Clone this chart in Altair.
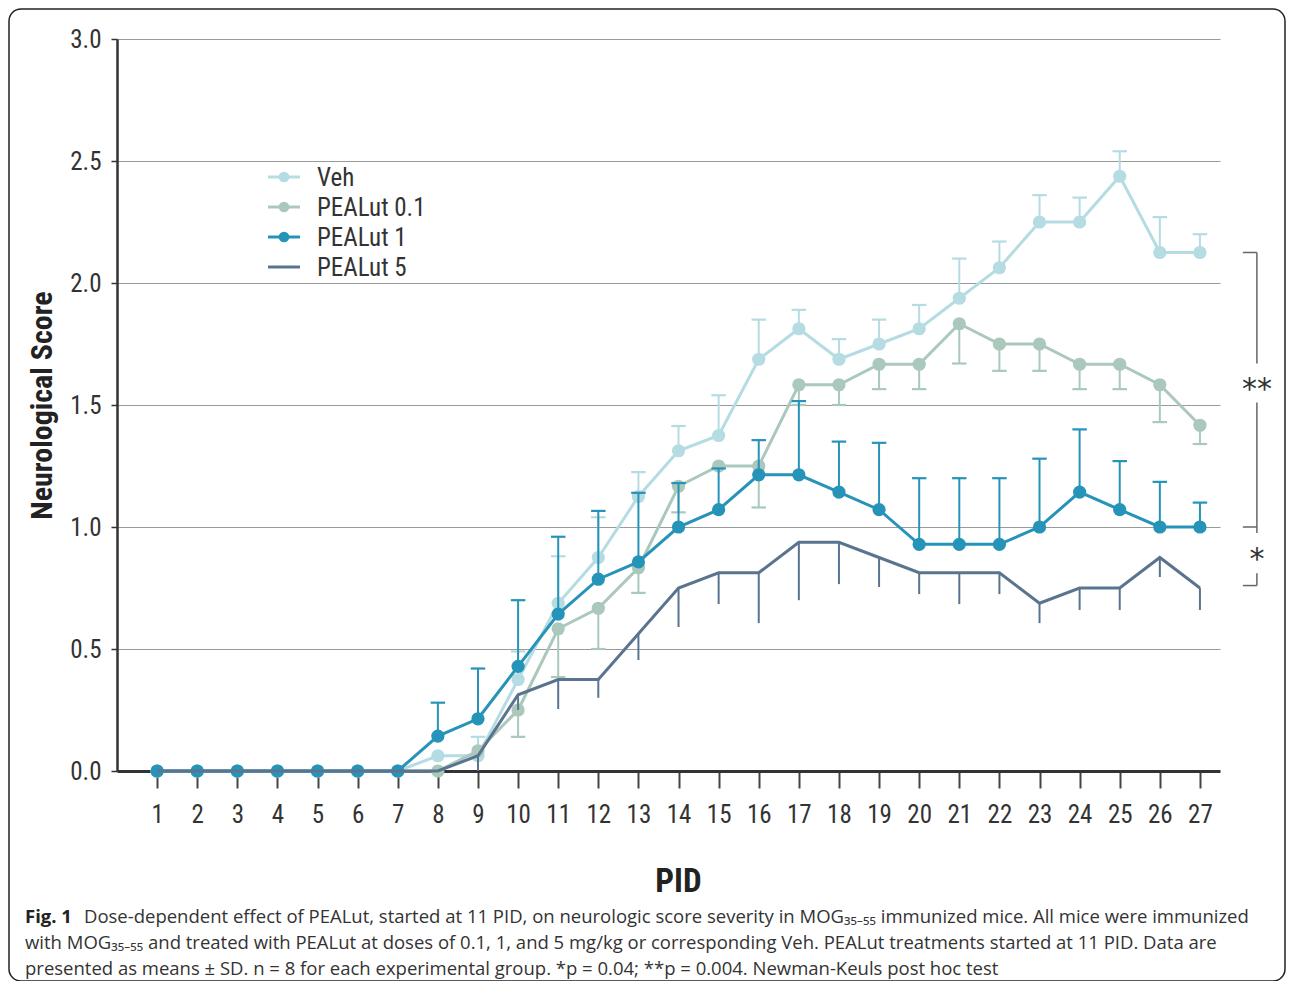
import altair as alt
import pandas as pd
import numpy as np

# ---------------- data ----------------
pid = list(range(1, 28))
groups = ["Veh", "PEALut 0.1", "PEALut 1", "PEALut 5"]
colors = ["#B5DCE3", "#AAC8BC", "#2693B8", "#5A7490"]

veh_mean = [0, 0, 0, 0, 0, 0, 0, 0.0625, 0.0625, 0.375, 0.6875, 0.875, 1.125, 1.3125,
            1.375, 1.6875, 1.8125, 1.6875, 1.75, 1.8125, 1.9375, 2.0625, 2.25, 2.25,
            2.4375, 2.125, 2.125]
veh_err = [None] * 8 + [0.14, 0.49, 0.88, 1.04, 1.225, 1.414, 1.54, 1.85, 1.89, 1.77,
                        1.85, 1.91, 2.10, 2.17, 2.36, 2.35, 2.54, 2.27, 2.20]

p01_mean = [0] * 8 + [0.083, 0.25, 0.583, 0.667, 0.833, 1.167, 1.25, 1.25, 1.583, 1.583,
                      1.667, 1.667, 1.833, 1.75, 1.75, 1.667, 1.667, 1.583, 1.417]
p01_err = [None] * 9 + [0.14, 0.385, 0.50, 0.73, 1.06, None, 1.08, 1.50, 1.50, 1.565,
                        1.565, 1.67, 1.64, 1.64, 1.565, 1.565, 1.43, 1.34]

p1_mean = [0] * 7 + [0.143, 0.214, 0.429, 0.643, 0.786, 0.857, 1.0, 1.071, 1.214, 1.214,
                     1.143, 1.071, 0.929, 0.929, 0.929, 1.0, 1.143, 1.071, 1.0, 1.0]
p1_err = [None] * 7 + [0.28, 0.42, 0.70, 0.96, 1.066, 1.14, 1.18, 1.24, 1.356, 1.516,
                       1.35, 1.345, 1.20, 1.20, 1.20, 1.28, 1.40, 1.27, 1.185, 1.10]

p5_mean = [0] * 8 + [0.0625, 0.3125, 0.375, 0.375, 0.5625, 0.75, 0.8125, 0.8125, 0.9375,
                     0.9375, 0.875, 0.8125, 0.8125, 0.8125, 0.6875, 0.75, 0.75, 0.875, 0.75]
p5_err = [None] * 8 + [0.0, 0.25, 0.254, 0.30, 0.455, 0.59, 0.684, 0.606, 0.70, 0.766,
                       0.754, 0.725, 0.684, 0.725, 0.606, 0.66, 0.66, 0.795, 0.66]

means = [veh_mean, p01_mean, p1_mean, p5_mean]
errs = [veh_err, p01_err, p1_err, p5_err]
has_marker = [True, True, True, False]

y_ticks = [0, 0.5, 1.0, 1.5, 2.0, 2.5, 3.0]

# significance brackets (y values) and labels
sig_top, sig_mid, sig_bot = 2.125, 1.0, 0.76
sig_gap = [1.67, 1.51]
sig_x = [28.07, 28.42]
sig_labels = [("**", 1.56), ("*", 0.865)]

caption = [
    "Dose-dependent effect of PEALut, started at 11 PID, on neurologic score severity in MOG\u2083\u2085\u208b\u2085\u2085 immunized mice. All mice were immunized",
    "with MOG\u2083\u2085\u208b\u2085\u2085 and treated with PEALut at doses of 0.1, 1, and 5 mg/kg or corresponding Veh. PEALut treatments started at 11 PID. Data are",
    "presented as means \u00b1 SD. n = 8 for each experimental group. *p = 0.04; **p = 0.004. Newman-Keuls post hoc test",
]

# ---------------- chart ----------------
COND = "Liberation Sans Narrow, Roboto Condensed, Liberation Sans, sans-serif"
CAP = "Open Sans, Noto Sans, sans-serif"

xscale = alt.Scale(domain=[0, 27.5], nice=False, zero=False)
yscale = alt.Scale(domain=[0, 3], nice=False)
xaxis = alt.Axis(values=pid, title="PID", grid=False, domainColor="#333", domainWidth=3,
                 tickColor="#444", tickSize=17, tickWidth=2, labelFont=COND, labelFontSize=25,
                 labelColor="#333", labelPadding=14, labelFlush=False,
                 titleFont=COND, titleFontSize=33, titleFontWeight="bold", titleColor="#222",
                 titleX=561, titleY=110, titleBaseline="middle")
yaxis = alt.Axis(values=y_ticks, format=".1f", title="Neurological Score", grid=True,
                 gridColor="#9a9a9a", gridWidth=1, domainColor="#333", domainWidth=2.5,
                 tickColor="#333", tickSize=6, tickWidth=1.5, labelFont=COND, labelFontSize=25,
                 labelColor="#333", labelPadding=10,
                 titleFont=COND, titleFontSize=30, titleFontWeight="bold", titleColor="#222",
                 titleX=-75, titleY=366, titleBaseline="middle", titleAlign="center")


def X(f):
    return alt.X(f, type="quantitative", scale=xscale, axis=xaxis)


def Y(f):
    return alt.Y(f, type="quantitative", scale=yscale, axis=yaxis)


layers = []

# frame
frame = alt.Chart(pd.DataFrame({"a": [0]})).mark_rect(
    fillOpacity=0, stroke="#222", strokeWidth=1.5, cornerRadius=12
).encode(x=alt.value(-108), x2=alt.value(1168), y=alt.value(-30), y2=alt.value(942))
layers.append(frame)

for g, c, m, e, mk in zip(groups, colors, means, errs, has_marker):
    df = pd.DataFrame({"day": pid, "mean": m,
                       "end": [np.nan if v is None else v for v in e]})
    dfe = df.dropna()
    base = alt.Chart(df)
    err = alt.Chart(dfe).mark_rule(color=c, strokeWidth=2).encode(
        x=X("day"), y=Y("mean"), y2="end")
    layers.append(err)
    if mk:
        cap = alt.Chart(dfe).mark_point(shape="stroke", color=c, strokeWidth=2.2,
                                        size=210, opacity=1).encode(x=X("day"), y=Y("end"))
        layers.append(cap)
    line = base.mark_line(color=c, strokeWidth=3).encode(x=X("day"), y=Y("mean"))
    layers.append(line)
    if mk:
        pts = base.mark_circle(color=c, size=175, opacity=1).encode(x=X("day"), y=Y("mean"))
        layers.append(pts)

# significance brackets
br_color = "#666"
br_v = pd.DataFrame({"x": [sig_x[1], sig_x[1], sig_x[1]],
                     "y1": [sig_top, sig_gap[1], 0.81],
                     "y2": [sig_gap[0], sig_mid - 0.025, sig_bot]})
layers.append(alt.Chart(br_v).mark_rule(color=br_color, strokeWidth=1.5).encode(
    x=X("x"), y=Y("y1"), y2="y2"))
br_h = pd.DataFrame({"x1": [sig_x[0]] * 3, "x2": [sig_x[1]] * 3,
                     "y": [sig_top, sig_mid, sig_bot]})
layers.append(alt.Chart(br_h).mark_rule(color=br_color, strokeWidth=1.5).encode(
    x=X("x1"), x2="x2", y=Y("y")))
br_t = pd.DataFrame({"x": [sig_x[1]] * 2, "y": [s[1] for s in sig_labels],
                     "t": [s[0] for s in sig_labels]})
layers.append(alt.Chart(br_t).mark_text(font="DejaVu Sans", fontSize=30, color="#333",
                                        baseline="middle").encode(
    x=X("x"), y=Y("y"), text="t:N"))

# legend (manual)
for i, (g, c, mk) in enumerate(zip(groups, colors, has_marker)):
    d = pd.DataFrame({"label": [g]})
    yy = 138 + 30 * i
    layers.append(alt.Chart(d).mark_rule(color=c, strokeWidth=3).encode(
        x=alt.value(151), x2=alt.value(183), y=alt.value(yy)))
    if mk:
        layers.append(alt.Chart(d).mark_circle(color=c, size=115, opacity=1).encode(
            x=alt.value(167), y=alt.value(yy)))
    layers.append(alt.Chart(d).mark_text(font=COND, fontSize=25, color="#333", align="left",
                                         baseline="middle").encode(
        x=alt.value(200), y=alt.value(yy + 1), text="label:N"))

# caption
cap_df = pd.DataFrame({"t": ["Fig. 1"]})
layers.append(alt.Chart(cap_df).mark_text(font=CAP, fontSize=18.5, fontWeight="bold",
                                          color="#222", align="left",
                                          baseline="alphabetic").encode(
    x=alt.value(-92), y=alt.value(884), text="t:N"))
for i, line_txt in enumerate(caption):
    d = pd.DataFrame({"t": [line_txt]})
    layers.append(alt.Chart(d).mark_text(font=CAP, fontSize=18.5, color="#333", align="left",
                                         baseline="alphabetic").encode(
        x=alt.value(-33 if i == 0 else -92), y=alt.value(884 + 26 * i), text="t:N"))

chart = alt.layer(*layers).properties(
    width=1103, height=732,
    padding={"left": 109, "top": 31, "right": 67, "bottom": 210},
    autosize=alt.AutoSizeParams(type="none"),
    background="white",
).configure_view(stroke=None)

chart.save("out.html", embed_options={"renderer": "svg", "actions": False})
